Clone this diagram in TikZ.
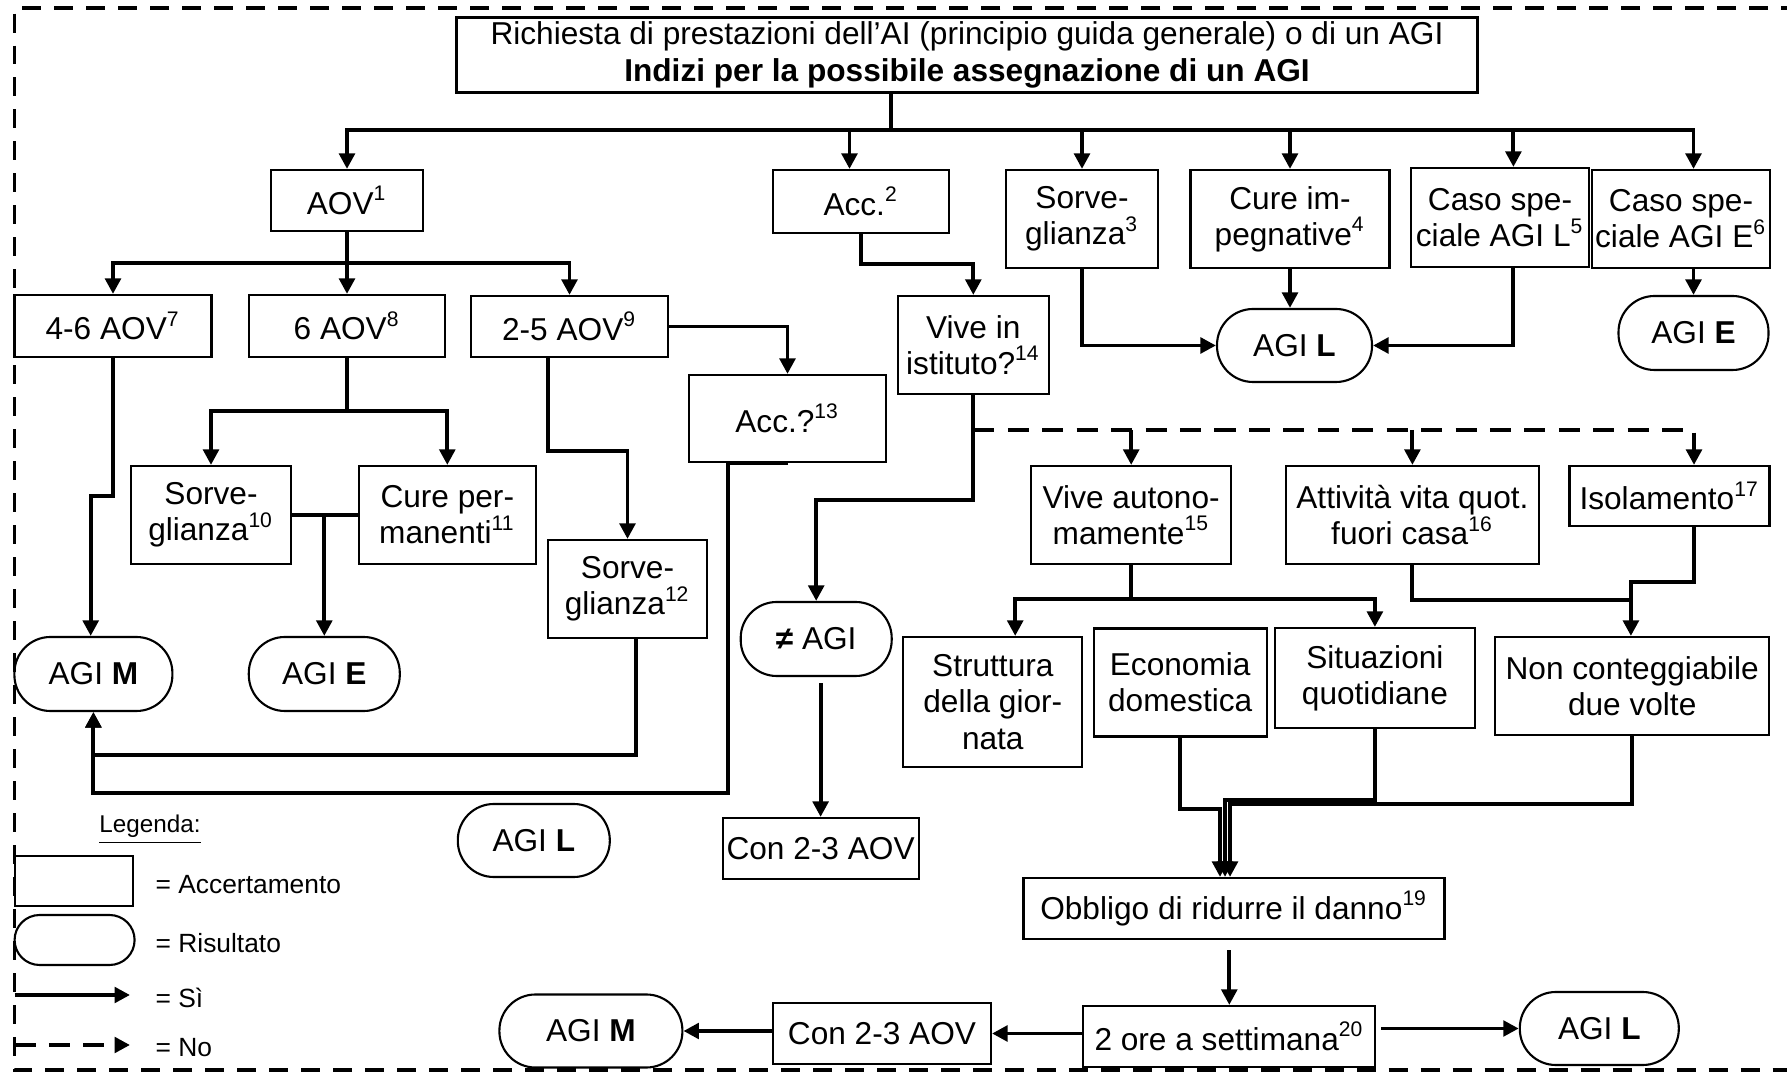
\documentclass[tikz,border=0pt]{standalone}
\usepackage{fontspec}
\setmainfont{Liberation Sans}
\usetikzlibrary{arrows.meta}
\tikzset{
	accbox/.style={draw, line width=0.6pt, inner sep=1pt, align=center, font=\fontsize{9pt}{10.3pt}\selectfont},
	resbox/.style={accbox, rounded corners=3.6mm},
	siline/.style={draw, line width=1.1pt},
	siarrow/.style={siline, -{Triangle[length=4.4pt,width=4.4pt]}},
	noline/.style={siline, dash pattern=on 6pt off 3.8pt},
	noarrow/.style={noline, -{Triangle[length=4.4pt,width=4.4pt]}},
	legtext/.style={anchor=west, inner sep=0pt, font=\fontsize{7.5pt}{8.5pt}\selectfont}
}

\begin{document}
\begin{tikzpicture}
\useasboundingbox (0,0) rectangle (17.87,-10.72);
\draw[line width=1.1pt, dash pattern=on 5.4pt off 3.7pt] (18,-0.08) -- (0.145,-0.08) -- (0.145,-10.70) -- (18,-10.70);

\node (title) [accbox, minimum width=10.21cm, minimum height=0.75cm] at (9.67,-0.55) {Richiesta di prestazioni dell’AI (principio guida generale) o di un AGI\\\textbf{Indizi per la possibile assegnazione di un AGI}};
\node (aov) [accbox, minimum width=1.52cm, minimum height=0.61cm] at (3.47,-2.005) {AOV\textsuperscript{1}};
\node (acc2) [accbox, minimum width=1.76cm, minimum height=0.63cm] at (8.61,-2.015) {Acc.\textsuperscript{2}};
\node (sorv3) [accbox, minimum width=1.52cm, minimum height=0.98cm] at (10.82,-2.19) {Sorve-\\glianza\textsuperscript{3}};
\node (cure4) [accbox, minimum width=1.99cm, minimum height=0.98cm] at (12.90,-2.19) {Cure im-\\pegnative\textsuperscript{4}};
\node (casoL) [accbox, minimum width=1.78cm, minimum height=0.99cm] at (15.00,-2.175) {Caso spe-\\ciale AGI L\textsuperscript{5}};
\node (casoE) [accbox, minimum width=1.76cm, minimum height=0.98cm] at (16.81,-2.19) {Caso spe-\\ciale AGI E\textsuperscript{6}};
\node (agiL1) [resbox, minimum width=1.55cm, minimum height=0.73cm] at (12.945,-3.455) {AGI \textbf{L}};
\node (agiE1) [resbox, minimum width=1.50cm, minimum height=0.74cm] at (16.935,-3.33) {AGI \textbf{E}};
\node (aov46) [accbox, minimum width=1.97cm, minimum height=0.62cm] at (1.13,-3.26) {4-6 AOV\textsuperscript{7}};
\node (aov6) [accbox, minimum width=1.96cm, minimum height=0.62cm] at (3.47,-3.26) {6 AOV\textsuperscript{8}};
\node (aov25) [accbox, minimum width=1.97cm, minimum height=0.61cm] at (5.695,-3.265) {2-5 AOV\textsuperscript{9}};
\node (acc13) [accbox, minimum width=1.97cm, minimum height=0.87cm] at (7.875,-4.185) {Acc.?\textsuperscript{13}};
\node (vive) [accbox, minimum width=1.51cm, minimum height=0.98cm] at (9.733,-3.45) {Vive in\\istituto?\textsuperscript{14}};
\node (sorv10) [accbox, minimum width=1.60cm, minimum height=0.98cm] at (2.11,-5.15) {Sorve-\\glianza\textsuperscript{10}};
\node (cureperm) [accbox, minimum width=1.77cm, minimum height=0.98cm] at (4.473,-5.15) {Cure per-\\manenti\textsuperscript{11}};
\node (agiE2) [resbox, minimum width=1.51cm, minimum height=0.74cm] at (3.243,-6.74) {AGI \textbf{E}};
\node (agiM1) [resbox, minimum width=1.58cm, minimum height=0.74cm] at (0.934,-6.74) {AGI \textbf{M}};
\node (sorv12) [accbox, minimum width=1.59cm, minimum height=0.98cm] at (6.275,-5.89) {Sorve-\\glianza\textsuperscript{12}};
\node (neq) [resbox, minimum width=1.51cm, minimum height=0.74cm] at (8.162,-6.39) {\textbf{≠} AGI};
\node (con1) [accbox, minimum width=1.96cm, minimum height=0.61cm] at (8.206,-8.485) {Con 2-3 AOV};
\node (autonom) [accbox, minimum width=2.00cm, minimum height=0.98cm] at (11.312,-5.15) {Vive autono-\\mamente\textsuperscript{15}};
\node (attiv) [accbox, minimum width=2.53cm, minimum height=0.98cm] at (14.124,-5.15) {Attività vita quot.\\fuori casa\textsuperscript{16}};
\node (isol) [accbox, minimum width=2.00cm, minimum height=0.60cm] at (16.695,-4.96) {Isolamento\textsuperscript{17}};
\node (strutt) [accbox, minimum width=1.79cm, minimum height=1.30cm] at (9.928,-7.02) {Struttura\\della gior-\\nata};
\node (econ) [accbox, minimum width=1.73cm, minimum height=1.08cm] at (11.802,-6.825) {Economia\\domestica};
\node (situaz) [accbox, minimum width=2.00cm, minimum height=1.00cm] at (13.749,-6.78) {Situazioni\\quotidiane};
\node (noncont) [accbox, minimum width=2.74cm, minimum height=0.98cm] at (16.322,-6.86) {Non conteggiabile\\due volte};
\node (obbligo) [accbox, minimum width=4.21cm, minimum height=0.61cm] at (12.34,-9.085) {Obbligo di ridurre il danno\textsuperscript{19}};
\node (ore2) [accbox, minimum width=2.92cm, minimum height=0.61cm] at (12.293,-10.365) {2 ore a settimana\textsuperscript{20}};
\node (agiL3) [resbox, minimum width=1.59cm, minimum height=0.73cm] at (15.993,-10.285) {AGI \textbf{L}};
\node (con2) [accbox, minimum width=2.18cm, minimum height=0.61cm] at (8.82,-10.335) {Con 2-3 AOV};
\node (agiM2) [resbox, minimum width=1.83cm, minimum height=0.73cm] at (5.909,-10.31) {AGI \textbf{M}};
\node (agiL2) [resbox, minimum width=1.52cm, minimum height=0.73cm] at (5.338,-8.405) {AGI \textbf{L}};

\coordinate (bus) at (8.908,-1.30);
\coordinate (d2) at (8.495,-1.30); \coordinate (d5) at (15.134,-1.30);
\draw[siline] (bus |- title.south) -- (bus);
\draw[siarrow] (bus) -| (aov.north); \draw[siarrow] (bus) -| (agiE1.north |- casoE.north);
\draw[siarrow] (d2) -- (d2 |- acc2.north); \draw[siarrow] (sorv3.north |- bus) -- (sorv3.north);
\draw[siarrow] (cure4.north |- bus) -- (cure4.north); \draw[siarrow] (d5) -- (d5 |- casoL.north);
\draw[siarrow] (sorv3.south) |- (agiL1.west); \draw[siarrow] (cure4.south) -- (cure4.south |- agiL1.north);
\draw[siarrow] (d5 |- casoL.south) |- (agiL1.east); \draw[siarrow] (agiE1.north |- casoE.south) -- (agiE1.north);

\coordinate (bus2) at (3.47,-2.63);
\draw[siline] (aov.south) -- (bus2);
\draw[siarrow] (bus2) -| (aov46.north); \draw[siarrow] (bus2) -| (aov25.north); \draw[siarrow] (bus2) -- (aov6.north);
\coordinate (k1) at (0.907,-4.96);
\draw[siarrow] (aov46.south) |- (k1) -- (k1 |- agiM1.north);
\coordinate (bus3) at (3.47,-4.11);
\draw[siline] (aov6.south) -- (bus3);
\draw[siarrow] (bus3) -| (sorv10.north); \draw[siarrow] (bus3) -| (cureperm.north);
\draw[siline] (sorv10.east) -- (cureperm.west); \draw[siarrow] (agiE2.north |- sorv10.east) -- (agiE2.north);
\draw[siarrow] (aov25.east) -| (acc13.north);
\coordinate (k2) at (5.483,-4.51);
\draw[siarrow] (k2 |- aov25.south) -- (k2) -| (sorv12.north);
\coordinate (k3) at (6.356,-7.55);
\draw[siarrow] (k3 |- sorv12.south) -- (k3) -| (agiM1.south);
\coordinate (k4) at (7.282,-7.93);
\draw[siarrow] (acc13.south) -| (k4) -| (agiM1.south);

\coordinate (k5) at (8.61,-2.64);
\draw[siarrow] (acc2.south) -- (k5) -| (vive.north);
\coordinate (k6) at (9.733,-5.00);
\draw[siarrow] (vive.south) -- (k6) -| (neq.north);
\draw[siarrow, shorten <=0.6mm] (neq.south -| con1.north) -- (con1.north);
\coordinate (nobus) at (9.733,-4.30); \coordinate (k7) at (16.94,-4.30);
\draw[noarrow] (nobus) -| (k7 |- isol.north);
\draw[noarrow] (autonom.north |- nobus) -- (autonom.north); \draw[noarrow] (attiv.north |- nobus) -- (attiv.north);

\coordinate (bus4) at (11.312,-5.99); \coordinate (d7) at (10.152,-5.99);
\draw[siline] (autonom.south) -- (bus4);
\draw[siarrow] (bus4) -| (situaz.north); \draw[siarrow] (bus4) -- (d7) -- (d7 |- strutt.north);
\coordinate (m1) at (16.309,-6.00); \coordinate (m2) at (16.309,-5.82);
\draw[siline] (attiv.south) |- (m1);
\draw[siarrow] (k7 |- isol.south) |- (m2) -- (m2 |- noncont.north);

\coordinate (j1) at (12.20,-8.09); \coordinate (j2) at (12.25,-8.00); \coordinate (j3) at (12.30,-8.04);
\draw[siarrow] (econ.south) |- (j1) -- (j1 |- obbligo.north);
\draw[siarrow] (situaz.south) |- (j2) -- (j2 |- obbligo.north);
\draw[siarrow] (noncont.south) |- (j3) -- (j3 |- obbligo.north);
\draw[siarrow, shorten <=1mm] (obbligo.south -| ore2.north) -- (ore2.north);
\draw[siarrow, shorten <=0.5mm] (ore2.east |- agiL3.west) -- (agiL3.west);
\draw[siarrow] (ore2.west |- con2.east) -- (con2.east); \draw[siarrow] (con2.west |- agiM2.east) -- (agiM2.east);

\node (legenda) [legtext, font=\fontsize{6.9pt}{8pt}\selectfont] at (0.987,-8.30) {\underline{Legenda:}};
\node (legacc) [accbox, minimum width=1.18cm, minimum height=0.50cm] at (0.736,-8.81) {};
\node (legacctxt) [legtext] at (1.55,-8.85) {= Accertamento};
\node (legres) [accbox, rounded corners=2.5mm, minimum width=1.20cm, minimum height=0.50cm] at (0.746,-9.40) {};
\node (legrestxt) [legtext] at (1.55,-9.43) {= Risultato};
\coordinate (legsi1) at (0.145,-9.95); \coordinate (legsi2) at (1.30,-9.95);
\draw[siarrow] (legsi1) -- (legsi2);
\node (legsitxt) [legtext] at (1.55,-9.98) {= Sì};
\coordinate (legno1) at (0.145,-10.45); \coordinate (legno2) at (1.30,-10.45);
\draw[noarrow] (legno1) -- (legno2);
\node (legnotxt) [legtext] at (1.55,-10.48) {= No};
\end{tikzpicture}
\end{document}
